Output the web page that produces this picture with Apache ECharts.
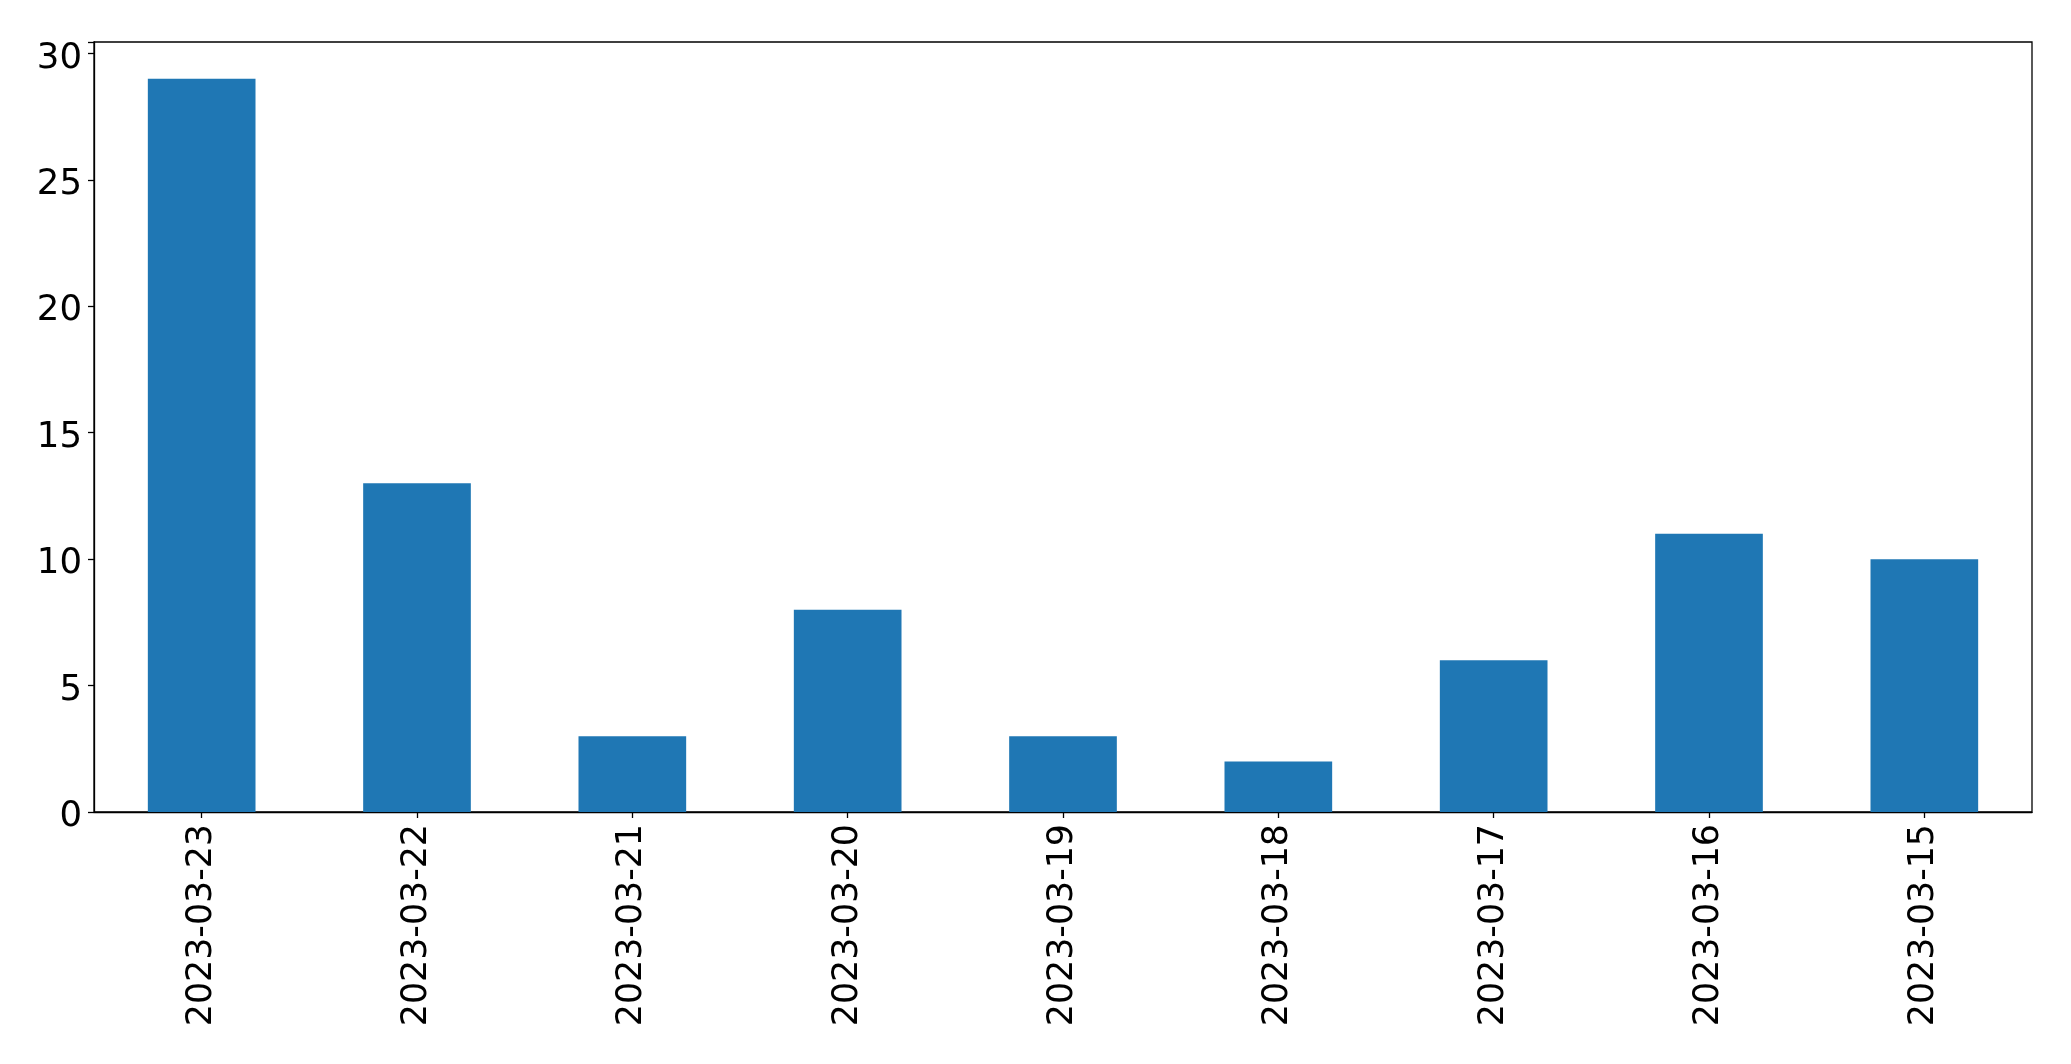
<!DOCTYPE html>
<html>
<head>
<meta charset="utf-8">
<script src="https://cdn.jsdelivr.net/npm/echarts@6/dist/echarts.min.js"></script>
<style>
html,body{margin:0;padding:0;background:#fff;}
#chart{width:2071px;height:1064px;}
</style>
</head>
<body>
<div id="chart"></div>
<script>
const categories = ["2023-03-23","2023-03-22","2023-03-21","2023-03-20","2023-03-19","2023-03-18","2023-03-17","2023-03-16","2023-03-15"];
const values = [29, 13, 3, 8, 3, 2, 6, 11, 10];
const yTicks = [0, 5, 10, 15, 20, 25, 30];

const chart = echarts.init(document.getElementById('chart'), null, {renderer: 'canvas'});
const font = "DejaVu Sans";
chart.setOption({
  animation: false,
  backgroundColor: '#fff',
  grid: {left: 94, right: 39, top: 42, bottom: 252, show: true, borderColor: '#000', borderWidth: 1.3, backgroundColor: 'transparent'},
  xAxis: {
    type: 'category',
    data: categories,
    boundaryGap: true,
    axisLine: {show: true, lineStyle: {color: '#000', width: 1.3}},
    axisTick: {show: true, alignWithLabel: true, length: 6, lineStyle: {color: '#000', width: 1.3}},
    axisLabel: {rotate: 90, fontSize: 34.8, fontFamily: font, color: '#000', margin: 12, interval: 0}
  },
  yAxis: {
    type: 'value',
    min: 0,
    max: 30.45,
    interval: 5,
    axisLine: {show: true, lineStyle: {color: '#000', width: 1.3}},
    axisTick: {show: true, length: 6, lineStyle: {color: '#000', width: 1.3}},
    splitLine: {show: false},
    axisLabel: {color: '#000', margin: 12,
      formatter: function(v){ return yTicks.indexOf(v) >= 0 ? '{a|' + v + '}' : ''; },
      rich: {a: {fontSize: 35.5, fontFamily: font, color: '#000', padding: [10, 0, 0, 0]}}}
  },
  series: [{
    type: 'bar',
    data: values,
    barWidth: '50%',
    itemStyle: {color: '#1f77b4'}
  }]
});
</script>
</body>
</html>
